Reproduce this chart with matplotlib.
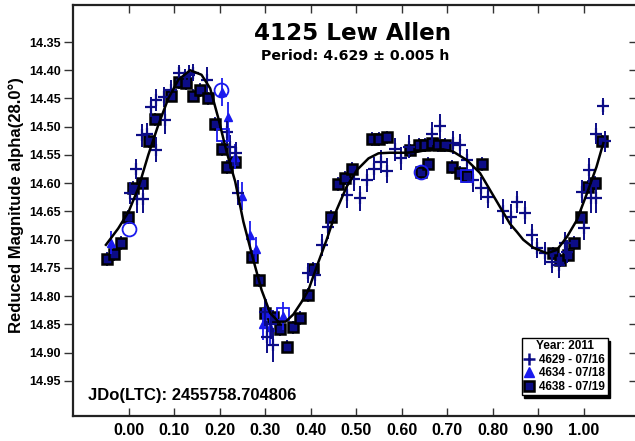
import matplotlib
matplotlib.use("Agg")
import matplotlib.pyplot as plt
from matplotlib.lines import Line2D

plt.rcParams['font.family'] = ['Liberation Sans', 'DejaVu Sans']
plt.rcParams['font.weight'] = 'bold'

# ---- session 4629 - 07/16 (crosses): phase, reduced magnitude, error
s1_phase = [0.003, 0.015, 0.018, 0.032, 0.029, 0.040, 0.061, 0.048, 0.061, 0.078,
            0.080, 0.092, 0.110, 0.124, 0.133, 0.142, 0.173, 0.215, 0.223, 0.236,
            0.240, 0.300, 0.303, 0.313, 0.318, 0.395, 0.409, 0.424, 0.439, 0.479,
            0.495, 0.508, 0.523, 0.538, 0.554, 0.568, 0.585, 0.598, 0.616, 0.666,
            0.683, 0.713, 0.728, 0.743, 0.757, 0.774, 0.790, 0.823, 0.840, 0.854,
            0.871, 0.886, 0.898, 0.915, 0.930, 0.946, 0.959, 0.963, 1.000, 0.996,
            1.012, 1.017, 1.028, 1.028, 1.047, 1.043]
s1_mag = [14.617, 14.575, 14.628, 14.628, 14.515, 14.512, 14.541, 14.465, 14.453, 14.447,
          14.488, 14.435, 14.405, 14.412, 14.408, 14.404, 14.417, 14.510, 14.535, 14.547,
          14.617, 14.828, 14.872, 14.850, 14.886, 14.759, 14.762, 14.709, 14.677, 14.621,
          14.593, 14.627, 14.595, 14.574, 14.562, 14.578, 14.540, 14.556, 14.535, 14.512,
          14.499, 14.528, 14.532, 14.559, 14.594, 14.609, 14.624, 14.650, 14.659, 14.633,
          14.652, 14.692, 14.715, 14.724, 14.739, 14.745, 14.706, 14.721, 14.680, 14.615,
          14.577, 14.627, 14.627, 14.512, 14.526, 14.464]
s1_err = [0.020, 0.018, 0.025, 0.025, 0.020, 0.018, 0.022, 0.018, 0.020, 0.018,
          0.025, 0.018, 0.015, 0.015, 0.018, 0.015, 0.022, 0.020, 0.020, 0.020,
          0.022, 0.025, 0.028, 0.025, 0.030, 0.018, 0.020, 0.020, 0.022, 0.022,
          0.020, 0.022, 0.020, 0.020, 0.020, 0.022, 0.020, 0.020, 0.020, 0.020,
          0.022, 0.020, 0.020, 0.020, 0.022, 0.020, 0.020, 0.022, 0.022, 0.020,
          0.020, 0.020, 0.018, 0.020, 0.020, 0.022, 0.020, 0.020, 0.020, 0.020,
          0.022, 0.025, 0.025, 0.018, 0.018, 0.015]

# ---- session 4634 - 07/18 (triangles)
s2_phase = [-0.039, 0.204, 0.219, 0.234, 0.248, 0.267, 0.280, 0.296, 0.301, 0.311, 0.340]
s2_mag = [14.705, 14.438, 14.482, 14.553, 14.623, 14.692, 14.717, 14.849, 14.830, 14.854, 14.835]
s2_err = [0.020, 0.025, 0.025, 0.022, 0.025, 0.025, 0.022, 0.028, 0.025, 0.030, 0.025]

# ---- session 4638 - 07/19 (squares)
s3_phase = [-0.048, -0.032, -0.017, -0.002, 0.010, 0.029, 0.045, 0.058, 0.094, 0.111,
            0.125, 0.141, 0.157, 0.174, 0.190, 0.204, 0.216, 0.234, 0.272, 0.287,
            0.300, 0.318, 0.333, 0.347, 0.362, 0.376, 0.395, 0.406, 0.444, 0.461,
            0.475, 0.491, 0.535, 0.551, 0.567, 0.618, 0.637, 0.651, 0.666, 0.680,
            0.695, 0.642, 0.658, 0.711, 0.727, 0.743, 0.776, 0.933, 0.948, 0.965,
            0.979, 0.994, 1.010, 1.025, 1.040]
s3_mag = [14.734, 14.726, 14.706, 14.660, 14.608, 14.599, 14.525, 14.487, 14.445, 14.421,
          14.423, 14.445, 14.435, 14.450, 14.495, 14.539, 14.571, 14.563, 14.730, 14.772,
          14.830, 14.836, 14.858, 14.889, 14.855, 14.839, 14.798, 14.751, 14.659, 14.601,
          14.591, 14.574, 14.522, 14.522, 14.519, 14.542, 14.532, 14.532, 14.529, 14.532,
          14.532, 14.580, 14.566, 14.571, 14.582, 14.588, 14.566, 14.724, 14.736, 14.727,
          14.706, 14.659, 14.606, 14.600, 14.526]
s3_err = [0.012] * len(s3_phase)

# ---- points flagged in the fit (open circles / open squares)
flag_circle_phase = [0.000, 0.203, 0.642]
flag_circle_mag = [14.681, 14.435, 14.580]
flag_square_phase = [0.207, 0.338, 0.743]
flag_square_mag = [14.515, 14.832, 14.588]

# ---- Fourier fit curve
fit_phase = [-0.050, -0.023, 0.000, 0.021, 0.043, 0.065, 0.087, 0.109, 0.135, 0.160,
             0.179, 0.197, 0.215, 0.234, 0.252, 0.274, 0.292, 0.311, 0.329, 0.345,
             0.362, 0.380, 0.395, 0.413, 0.435, 0.457, 0.479, 0.501, 0.527, 0.549,
             0.574, 0.611, 0.637, 0.655, 0.691, 0.713, 0.743, 0.772, 0.794, 0.816,
             0.838, 0.853, 0.867, 0.889, 0.919, 0.941, 0.963, 0.985, 1.007, 1.028,
             1.043]
fit_mag = [14.709, 14.680, 14.650, 14.609, 14.550, 14.497, 14.450, 14.417, 14.400, 14.408,
           14.432, 14.485, 14.544, 14.597, 14.668, 14.736, 14.789, 14.830, 14.845, 14.845,
           14.832, 14.810, 14.789, 14.748, 14.700, 14.647, 14.606, 14.577, 14.556, 14.547,
           14.546, 14.546, 14.544, 14.541, 14.540, 14.544, 14.559, 14.582, 14.612, 14.642,
           14.672, 14.686, 14.700, 14.714, 14.724, 14.718, 14.695, 14.665, 14.618, 14.571,
           14.529]

x_ticks = [0.0, 0.1, 0.2, 0.3, 0.4, 0.5, 0.6, 0.7, 0.8, 0.9, 1.0]
y_ticks = [14.35, 14.40, 14.45, 14.50, 14.55, 14.60, 14.65, 14.70, 14.75, 14.80, 14.85, 14.90, 14.95]
legend_labels = ["4629 - 07/16", "4634 - 07/18", "4638 - 07/19"]

NAVY = '#0c0c86'
BLUE = '#1a1aee'

fig = plt.figure(figsize=(6.35, 4.41), dpi=100)
ax = fig.add_axes([73 / 635, 1 - 416 / 441, 564 / 635, 411 / 441])

ax.errorbar(s3_phase, s3_mag, yerr=s3_err, fmt='s', ms=7, mfc=NAVY, mec='black', mew=1.8,
            ecolor=NAVY, elinewidth=1.3, capsize=0, zorder=3)
ax.errorbar(s2_phase, s2_mag, yerr=s2_err, fmt='^', ms=6, mfc=BLUE, mec=BLUE, mew=1,
            ecolor=BLUE, elinewidth=1.3, capsize=0, zorder=4)
ax.errorbar(s1_phase, s1_mag, yerr=s1_err, fmt='+', ms=8, mec=NAVY, mew=1.6,
            ecolor=NAVY, elinewidth=1.4, capsize=0, zorder=5)
ax.plot(flag_circle_phase, flag_circle_mag, 'o', ms=10, mfc='none', mec=BLUE, mew=1.3, zorder=6)
ax.plot(flag_square_phase, flag_square_mag, 's', ms=9, mfc='none', mec=BLUE, mew=1.3, zorder=6)
ax.plot(fit_phase, fit_mag, color='black', lw=1.8, zorder=7)

ax.set_xlim(-0.1224, 1.117)
ax.set_ylim(15.012, 14.2845)

ax.set_xticks(x_ticks)
ax.set_xticklabels([f"{v:.2f}" for v in x_ticks])
ax.set_yticks(y_ticks)
ax.set_yticklabels([f"{v:.2f}" for v in y_ticks])
ax.tick_params(axis='x', which='both', direction='in', length=6, width=1, top=True,
               bottom=True, labelsize=11.5, pad=5, colors='#333333', labelcolor='black')
ax.tick_params(axis='y', which='both', direction='out', length=6.5, width=1, left=True,
               right=False, labelsize=9, pad=2, colors='#333333', labelcolor='black')
# inward ticks on the right edge
ax2 = ax.secondary_yaxis('right')
ax2.set_yticks(y_ticks)
ax2.tick_params(direction='in', length=6, width=1, labelright=False, colors='#333333')
ax2.spines['right'].set_visible(False)

for side in ['left', 'bottom', 'top']:
    ax.spines[side].set_linewidth(1.6)
    ax.spines[side].set_color('#222222')
ax.spines['right'].set_visible(False)

fig.text(16 / 635, 1 - 205 / 441, "Reduced Magnitude alpha(28.0°)", rotation=90,
         ha='center', va='center', fontsize=12, fontweight='bold')

fig.text(353 / 635, 1 - 40 / 441, "4125 Lew Allen", ha='center', va='baseline',
         fontsize=16.6, fontweight='bold', family=['DejaVu Sans'])
fig.text(355 / 635, 1 - 60 / 441, "Period: 4.629 ± 0.005 h", ha='center', va='baseline',
         fontsize=10.2, fontweight='bold', family=['DejaVu Sans'])

ax.text(0.0266, 0.051, "JDo(LTC): 2455758.704806", transform=ax.transAxes,
        ha='left', va='center', fontsize=12, fontweight='bold')

handles = [
    Line2D([], [], ls='none', marker='+', ms=9, mec=NAVY, mew=1.8),
    Line2D([], [], ls='none', marker='^', ms=7, mfc=BLUE, mec=BLUE),
    Line2D([], [], ls='none', marker='s', ms=7, mfc=NAVY, mec='black', mew=1.8),
]
leg = ax.legend(handles, legend_labels, title="Year: 2011", loc='lower left',
                bbox_to_anchor=(0.7956, 0.051), borderaxespad=0, frameon=True,
                fancybox=False, shadow={'color': 'black', 'alpha': 1.0},
                prop={'size': 8.5, 'weight': 'bold'}, title_fontproperties={'size': 8.5, 'weight': 'bold'},
                handlelength=0.8, handletextpad=0.5, labelspacing=0.12, borderpad=0.2)
leg.get_frame().set_edgecolor('black')
leg.get_frame().set_linewidth(1.0)
leg.get_frame().set_alpha(1.0)
leg.set_zorder(10)

fig.savefig("out.png", dpi=100)
